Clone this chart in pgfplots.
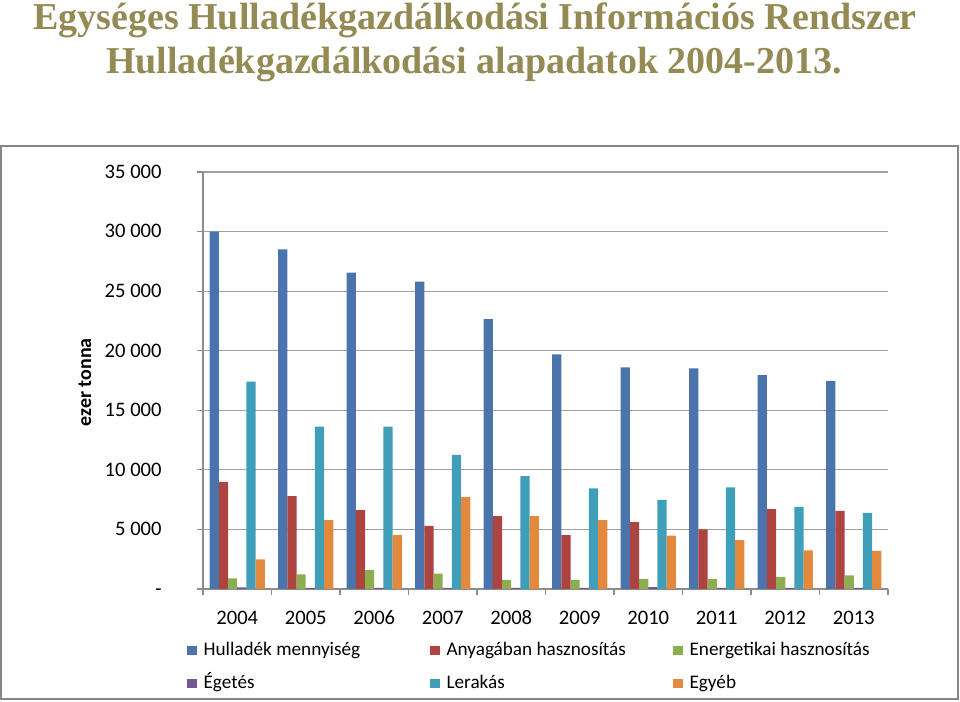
\documentclass[border=0pt]{standalone}
\usepackage{fontspec}
\setmainfont{Carlito}
\newfontfamily\titlefont{Liberation Serif}
\usepackage{pgfplots}
\pgfplotsset{compat=1.18}
\definecolor{cHull}{HTML}{4A74AB}
\definecolor{cAnyag}{HTML}{AE4440}
\definecolor{cEnerg}{HTML}{8DAE50}
\definecolor{cEget}{HTML}{73578F}
\definecolor{cLer}{HTML}{409FB8}
\definecolor{cEgyeb}{HTML}{E2893E}
\definecolor{titlecol}{HTML}{948A54}
\definecolor{axgray}{HTML}{8C8C8C}
\definecolor{gridgray}{HTML}{A0A0A0}
\definecolor{framegray}{HTML}{868686}
\begin{document}
\begin{tikzpicture}
\path[use as bounding box] (0,0) rectangle (480pt,351pt);
\draw[framegray, line width=0.75pt] (0.5pt,1.5pt) rectangle (479pt,278pt);
\node[anchor=base, text=titlecol, inner sep=0pt,
  font=\titlefont\bfseries\fontsize{19}{22}\selectfont] at (237.5pt,336pt)
  {Egységes Hulladékgazdálkodási Információs Rendszer};
\node[anchor=base, text=titlecol, inner sep=0pt,
  font=\titlefont\bfseries\fontsize{19}{22}\selectfont] at (237pt,314pt)
  {Hulladékgazdálkodási alapadatok 2004-2013.};
\begin{axis}[
  at={(101.5pt,56.5pt)}, anchor=south west,
  scale only axis, width=342.5pt, height=208.5pt,
  ybar=0pt, bar width=0.134,
  xmin=-0.5, xmax=9.5, ymin=0, ymax=35000,
  scaled y ticks=false,
  axis x line*=bottom, axis y line*=left,
  axis line style={draw=axgray, line width=0.6pt},
  tick align=outside, major tick length=3pt,
  tick style={draw=axgray, line width=0.6pt},
  xtick={-0.5,0.5,1.5,2.5,3.5,4.5,5.5,6.5,7.5,8.5,9.5},
  xticklabels={2004,2005,2006,2007,2008,2009,2010,2011,2012,2013,{}},
  xticklabel style={anchor=base, inner sep=0pt, xshift=17.125pt, yshift=-15pt,
    font=\fontsize{10.3}{12}\selectfont},
  ytick={0,5000,10000,15000,20000,25000,30000,35000},
  yticklabels={{-\hspace{5pt}},5 000,10 000,15 000,20 000,25 000,30 000,35 000},
  yticklabel style={anchor=east, inner sep=0pt, xshift=-17.5pt, text height=6.3pt, text depth=0pt,
    font=\fontsize{10.3}{12}\selectfont},
  ymajorgrids, grid style={draw=gridgray, line width=0.6pt},
  ylabel={\bfseries ezer tonna},
  ylabel style={at={(axis description cs:-0.1723,0.496)}, anchor=center},
  legend columns=3,
  legend cell align=left,
  legend image code/.code={\fill[#1] (0pt,-2.3pt) rectangle (4.6pt,2.3pt);},
  legend style={at={(-0.0234,-0.1247)}, anchor=north west, draw=none, fill=none,
    inner sep=0pt, row sep=7.5pt, font=\fontsize{9.6}{11}\selectfont,
    nodes={inner sep=0pt, text height=7pt, text depth=2pt, text width=113.4pt, align=flush left},
    /tikz/every odd column/.append style={column sep=3.5pt},
    /tikz/every even column/.append style={column sep=0pt}},
]
\addplot[fill=cHull, draw=none] coordinates {(0,30000) (1,28500) (2,26550) (3,25800) (4,22650) (5,19700) (6,18600) (7,18520) (8,17950) (9,17450)};
\addlegendentry{Hulladék mennyiség}
\addplot[fill=cAnyag, draw=none] coordinates {(0,9000) (1,7800) (2,6630) (3,5300) (4,6120) (5,4530) (6,5620) (7,5010) (8,6710) (9,6550)};
\addlegendentry{Anyagában hasznosítás}
\addplot[fill=cEnerg, draw=none] coordinates {(0,900) (1,1230) (2,1590) (3,1300) (4,760) (5,760) (6,840) (7,840) (8,1010) (9,1150)};
\addlegendentry{Energetikai hasznosítás}
\addplot[fill=cEget, draw=none] coordinates {(0,130) (1,100) (2,90) (3,90) (4,90) (5,90) (6,150) (7,90) (8,90) (9,90)};
\addlegendentry{Égetés}
\addplot[fill=cLer, draw=none] coordinates {(0,17400) (1,13620) (2,13620) (3,11250) (4,9480) (5,8450) (6,7470) (7,8530) (8,6900) (9,6380)};
\addlegendentry{Lerakás}
\addplot[fill=cEgyeb, draw=none] coordinates {(0,2490) (1,5790) (2,4530) (3,7720) (4,6120) (5,5790) (6,4470) (7,4110) (8,3250) (9,3190)};
\addlegendentry{Egyéb}
\end{axis}
\end{tikzpicture}
\end{document}
